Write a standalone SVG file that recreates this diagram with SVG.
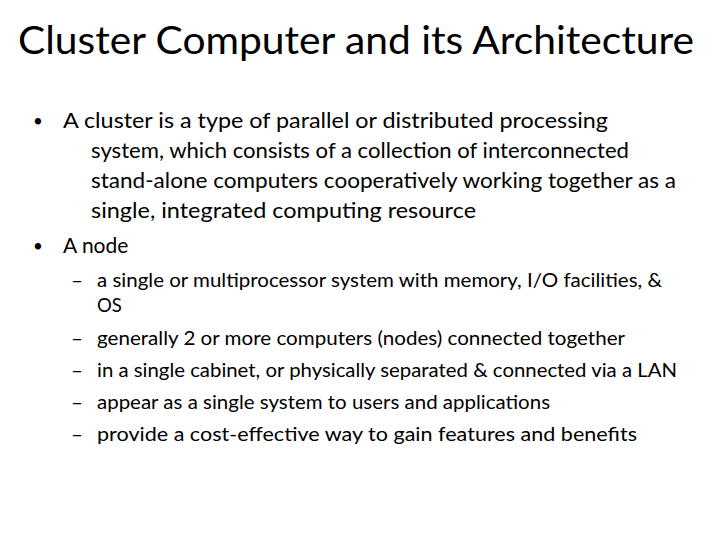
<svg xmlns="http://www.w3.org/2000/svg" width="720" height="540" viewBox="0 0 720 540">
<style>
text{font-family:Lato,"Open Sans","Liberation Sans",sans-serif;fill:#000}
.t{font-size:38px}
.b{font-size:21px}
.s{font-size:18.5px}
.k{font-size:17px}
</style>
<rect width="720" height="540" fill="#fff"/>
<text class="t" x="356" y="54" text-anchor="middle" textLength="676" lengthAdjust="spacingAndGlyphs">Cluster Computer and its Architecture</text>
<g id="bullets">
<text class="k" x="33" y="127">•</text>
<text class="b" x="63" y="128" textLength="545" lengthAdjust="spacingAndGlyphs">A cluster is a type of parallel or distributed processing</text>
<text class="b" x="91" y="158" textLength="538" lengthAdjust="spacingAndGlyphs">system, which consists of a collection of interconnected</text>
<text class="b" x="91" y="188" textLength="585" lengthAdjust="spacingAndGlyphs">stand-alone  computers cooperatively working together as a</text>
<text class="b" x="91" y="218" textLength="385" lengthAdjust="spacingAndGlyphs">single, integrated computing resource</text>
<text class="k" x="33" y="252">•</text>
<text class="b" x="63" y="253">A node</text>
</g>
<g id="subbullets">
<text class="s" x="71" y="287" textLength="12" lengthAdjust="spacingAndGlyphs">–</text>
<text class="s" x="97" y="287" textLength="565" lengthAdjust="spacingAndGlyphs">a single or multiprocessor system with memory, I/O facilities, &amp;</text>
<text class="s" x="97" y="312">OS</text>
<text class="s" x="71" y="345" textLength="12" lengthAdjust="spacingAndGlyphs">–</text>
<text class="s" x="97" y="345" textLength="528" lengthAdjust="spacingAndGlyphs">generally 2 or more computers (nodes) connected together</text>
<text class="s" x="71" y="377" textLength="12" lengthAdjust="spacingAndGlyphs">–</text>
<text class="s" x="97" y="377" textLength="580" lengthAdjust="spacingAndGlyphs">in a single cabinet, or physically separated &amp; connected via a LAN</text>
<text class="s" x="71" y="409" textLength="12" lengthAdjust="spacingAndGlyphs">–</text>
<text class="s" x="97" y="409" textLength="453" lengthAdjust="spacingAndGlyphs">appear as a single system to users and applications</text>
<text class="s" x="71" y="441" textLength="12" lengthAdjust="spacingAndGlyphs">–</text>
<text class="s" x="97" y="441" textLength="540" lengthAdjust="spacingAndGlyphs">provide a cost-effective way to gain features and benefits</text>
</g>
</svg>
